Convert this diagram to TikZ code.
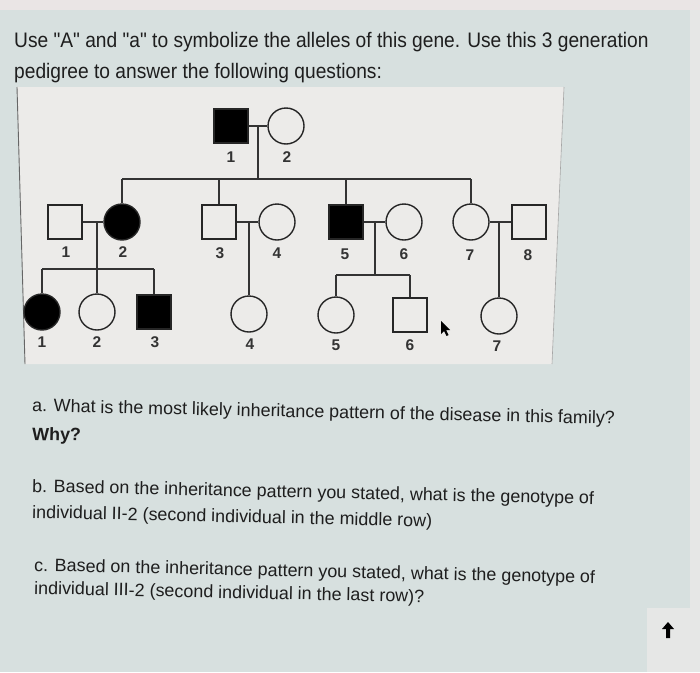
\documentclass[tikz,border=0pt]{standalone}
\usepackage{fontspec}
\setmainfont{Liberation Sans}[Ligatures=TeXOff]
\definecolor{topstrip}{HTML}{EAE5E5}
\definecolor{panel}{HTML}{D7E0DF}
\definecolor{boxbg}{HTML}{ECEBE9}
\definecolor{ink}{HTML}{1E1E1E}
\definecolor{rightstrip}{HTML}{E6E7E6}
\begin{document}
\begin{tikzpicture}[x=1pt,y=-1pt,
  sq/.style={draw=black!85, line width=1.4pt, minimum size=34pt, inner sep=0pt, fill=boxbg},
  sqa/.style={sq, fill=black},
  ci/.style={draw=black!85, line width=1.4pt, circle, minimum size=36pt, inner sep=0pt, fill=boxbg},
  cia/.style={ci, fill=black},
  conn/.style={draw=black!80, line width=1.6pt},
  lbl/.style={font=\fontsize{15.5}{15.5}\selectfont\bfseries, text=black!80, inner sep=0pt},
  title/.style={anchor=base west, inner sep=0pt, text=ink, font=\fontsize{21}{25}\selectfont},
  qtext/.style={anchor=base west, inner sep=0pt, text=ink, rotate=-1.25, font=\fontsize{17.9}{21}\selectfont}
]
% background
\fill[panel] (0,0) rectangle (700,672);
\fill[topstrip] (0,0) rectangle (700,10);
\fill[rightstrip] (690,10) rectangle (700,672);
\fill[rightstrip] (647,608) rectangle (700,672);
\useasboundingbox (0,0) rectangle (700,672);

% title
\node[title] (t1) at (14,47.5) {\scalebox{0.913}[1]{Use "A" and "a" to symbolize the alleles of this gene. Use this 3 generation}};
\node[title] (t2) at (14,78) {\scalebox{0.913}[1]{pedigree to answer the following questions:}};

% pedigree box (photographed slightly in perspective)
\coordinate (bTL) at (17,87);
\coordinate (bTR) at (564,87);
\coordinate (bBR) at (552,364);
\coordinate (bBL) at (25,364);
\fill[boxbg] (bTL) -- (bTR) -- (bBR) -- (bBL) -- cycle;
\draw[black!60, line width=0.9pt] (bTL) -- (bBL);
\draw[black!35, line width=0.6pt] (bTR) -- (bBR);

% generation I
\node[sqa] (I1) at (231,126) {};
\node[ci] (I2) at (286,126) {};
\node[lbl] (lI1) at (231,157) {1};
\node[lbl] (lI2) at (287,157) {2};

% generation II
\node[sq] (II1) at (65,222) {};
\node[cia] (II2) at (122,222) {};
\node[sq] (II3) at (219,222) {};
\node[ci] (II4) at (277,222) {};
\node[sqa] (II5) at (346,222) {};
\node[ci] (II6) at (404,222) {};
\node[ci] (II7) at (471,222) {};
\node[sq] (II8) at (529,222) {};
\node[lbl] (lII1) at (66,252) {1};
\node[lbl] (lII2) at (123,252) {2};
\node[lbl] (lII3) at (220,253) {3};
\node[lbl] (lII4) at (277,253) {4};
\node[lbl] (lII5) at (345,254) {5};
\node[lbl] (lII6) at (404,254) {6};
\node[lbl] (lII7) at (470,255) {7};
\node[lbl] (lII8) at (528,255) {8};

% generation III
\node[cia] (III1) at (42,312) {};
\node[ci] (III2) at (97,312) {};
\node[sqa] (III3) at (154,312) {};
\node[ci] (III4) at (249,314) {};
\node[ci] (III5) at (336,315) {};
\node[sq] (III6) at (410,315) {};
\node[ci] (III7) at (499,316) {};
\node[lbl] (lIII1) at (42,342) {1};
\node[lbl] (lIII2) at (97,342) {2};
\node[lbl] (lIII3) at (155,342) {3};
\node[lbl] (lIII4) at (250,344) {4};
\node[lbl] (lIII5) at (336,345) {5};
\node[lbl] (lIII6) at (410,345) {6};
\node[lbl] (lIII7) at (497,346) {7};

% connectors: generation I
\coordinate (m1) at (258,126);
\coordinate (s1) at (258,179);
\draw[conn] (I1.east) -- (I2.west);
\draw[conn] (m1) -- (s1);
\draw[conn] (II2.north |- s1) -- (II7.north |- s1);
\draw[conn] (II2.north |- s1) -- (II2.north);
\draw[conn] (II3.north |- s1) -- (II3.north);
\draw[conn] (II5.north |- s1) -- (II5.north);
\draw[conn] (II7.north |- s1) -- (II7.north);

% II-1 x II-2
\coordinate (m2) at (97,222);
\coordinate (s2) at (97,269);
\draw[conn] (II1.east) -- (II2.west);
\draw[conn] (m2) -- (III2.north);
\draw[conn] (III1.north |- s2) -- (III3.north |- s2);
\draw[conn] (III1.north |- s2) -- (III1.north);
\draw[conn] (III3.north |- s2) -- (III3.north);

% II-3 x II-4
\coordinate (m3) at (249,222);
\draw[conn] (II3.east) -- (II4.west);
\draw[conn] (m3) -- (III4.north);

% II-5 x II-6
\coordinate (m4) at (375,222);
\coordinate (s4) at (375,275);
\draw[conn] (II5.east) -- (II6.west);
\draw[conn] (m4) -- (s4);
\draw[conn] (III5.north |- s4) -- (III6.north |- s4);
\draw[conn] (III5.north |- s4) -- (III5.north);
\draw[conn] (III6.north |- s4) -- (III6.north);

% II-7 x II-8
\coordinate (m5) at (499,222);
\draw[conn] (II7.east) -- (II8.west);
\draw[conn] (m5) -- (III7.north);

% mouse cursor
\fill[black] (441,321) -- (441,334) -- (444,331) -- (446.5,336) -- (448.5,335) -- (446,330) -- (450,330) -- cycle;

% questions
\node[qtext] (qa) at (32,411.5) {a. What is the most likely inheritance pattern of the disease in this family?};
\node[qtext, font=\fontsize{17.9}{21}\selectfont\bfseries] (qa2) at (32,440) {Why?};
\node[qtext] (qb) at (32,492) {b. Based on the inheritance pattern you stated, what is the genotype of};
\node[qtext] (qb2) at (32,518) {individual II-2 (second individual in the middle row)};
\node[qtext] (qc) at (34,571) {c. Based on the inheritance pattern you stated, what is the genotype of};
\node[qtext] (qc2) at (34,594) {individual III-2 (second individual in the last row)?};

% up arrow
\fill[black] (668,622) -- (674,629) -- (670,629) -- (670,638) -- (666,638) -- (666,629) -- (662,629) -- cycle;
\end{tikzpicture}
\end{document}
